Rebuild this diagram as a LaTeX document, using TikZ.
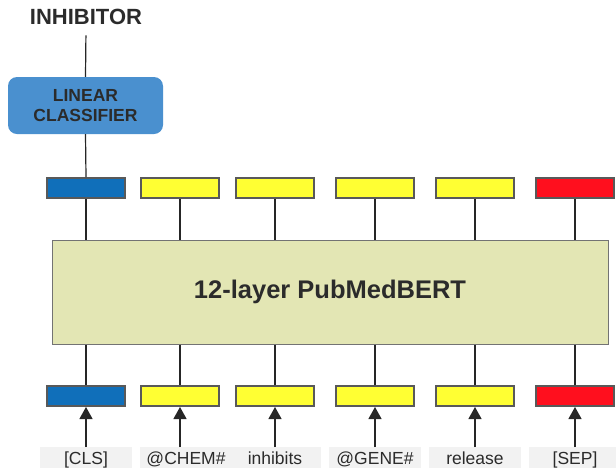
\documentclass[tikz,border=0pt]{standalone}
\usepackage{fontspec}
\setmainfont{Liberation Sans}
\usetikzlibrary{arrows.meta}

\definecolor{tokblue}{HTML}{106FBA}
\definecolor{tokyellow}{HTML}{FFFF33}
\definecolor{tokred}{HTML}{FF0F1E}
\definecolor{clfblue}{HTML}{4A90CF}
\definecolor{bertfill}{HTML}{E3E6B4}
\definecolor{labelgray}{HTML}{F2F2F2}
\definecolor{darktext}{HTML}{2B2B2B}

\begin{document}
\begin{tikzpicture}[x=1pt,y=-1pt,
	token/.style={draw=black!65,line width=2pt,minimum width=78pt,minimum height=20pt,inner sep=0pt},
	word/.style={fill=labelgray,minimum width=92pt,text height=13pt,text depth=4pt,inner ysep=4pt,anchor=north,font=\fontsize{17.5}{20}\selectfont,text=darktext},
	link/.style={draw=black!85,line width=1.2pt},
	feed/.style={link,-{Triangle[length=12pt,width=13pt]}}]
	
	\clip (0,0) rectangle (616,467);
	
	\node[font=\fontsize{22}{24}\bfseries\selectfont,text=darktext] (out) at (86,17) {INHIBITOR};
	\node[fill=clfblue,rounded corners=9pt,minimum width=155pt,minimum height=57pt,align=center,font=\fontsize{17.5}{20}\bfseries\selectfont,text=darktext] (clf) at (85.5,105.5) {LINEAR\\CLASSIFIER};
	\node[draw=black!55,line width=1pt,fill=bertfill,minimum width=556pt,minimum height=104pt,font=\fontsize{25.5}{28}\bfseries\selectfont,text=darktext] (bert) at (330,292) {12-layer PubMedBERT};
	
	\node[token,fill=tokblue]   (t1) at (86,188)  {};
	\node[token,fill=tokyellow] (t2) at (180,188) {};
	\node[token,fill=tokyellow] (t3) at (275,188) {};
	\node[token,fill=tokyellow] (t4) at (375,188) {};
	\node[token,fill=tokyellow] (t5) at (475,188) {};
	\node[token,fill=tokred]    (t6) at (575,188) {};
	
	\node[token,fill=tokblue]   (e1) at (86,396)  {};
	\node[token,fill=tokyellow] (e2) at (180,396) {};
	\node[token,fill=tokyellow] (e3) at (275,396) {};
	\node[token,fill=tokyellow] (e4) at (375,396) {};
	\node[token,fill=tokyellow] (e5) at (475,396) {};
	\node[token,fill=tokred]    (e6) at (575,396) {};
	
	\node[word] (w1) at (86,447)  {[CLS]};
	\node[word] (w2) at (186,447) {@CHEM\#};
	\node[word] (w3) at (275,447) {inhibits};
	\node[word] (w4) at (375,447) {@GENE\#};
	\node[word] (w5) at (475,447) {release};
	\node[word] (w6) at (575,447) {[SEP]};
	
	\draw[link,shorten >=7pt] (clf.north) -- (out.south);
	\draw[link] (clf.south) -- (t1.north);
	
	\draw[link] (t1.south) -- (bert.north -| t1.south);
	\draw[link] (t2.south) -- (bert.north -| t2.south);
	\draw[link] (t3.south) -- (bert.north -| t3.south);
	\draw[link] (t4.south) -- (bert.north -| t4.south);
	\draw[link] (t5.south) -- (bert.north -| t5.south);
	\draw[link] (t6.south) -- (bert.north -| t6.south);
	
	\draw[link] (bert.south -| e1.north) -- (e1.north);
	\draw[link] (bert.south -| e2.north) -- (e2.north);
	\draw[link] (bert.south -| e3.north) -- (e3.north);
	\draw[link] (bert.south -| e4.north) -- (e4.north);
	\draw[link] (bert.south -| e5.north) -- (e5.north);
	\draw[link] (bert.south -| e6.north) -- (e6.north);
	
	\draw[feed] (w1.north) -- (e1.south);
	\draw[feed] (w2.north -| e2.south) -- (e2.south);
	\draw[feed] (w3.north) -- (e3.south);
	\draw[feed] (w4.north) -- (e4.south);
	\draw[feed] (w5.north) -- (e5.south);
	\draw[feed] (w6.north) -- (e6.south);
	
\end{tikzpicture}
\end{document}
